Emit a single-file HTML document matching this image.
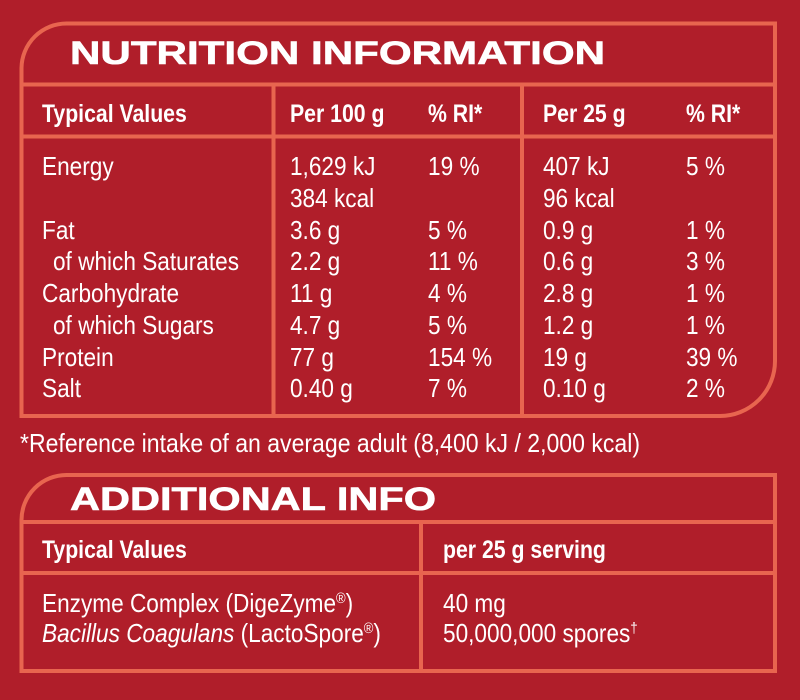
<!DOCTYPE html>
<html><head><meta charset="utf-8"><style>
html,body{margin:0;padding:0;background:#b01e2a}
svg{display:block}
text{font-family:"Liberation Sans",sans-serif;fill:#fff}
.t{font-weight:bold;font-size:32px;stroke:#fff;stroke-width:0.6}
.h{font-weight:bold;font-size:25px}
.b{font-size:26px}
</style></head><body>
<svg width="800" height="700" viewBox="0 0 800 700" xmlns="http://www.w3.org/2000/svg">
<rect width="800" height="700" fill="#b01e2a"/>
<g fill="none" stroke="#e8654f" stroke-width="4">
<path d="M21.5 416 V68 A45 45 0 0 1 66.5 23.5 H775 V361 A55 55 0 0 1 720 416 Z"/>
<line x1="21.5" y1="84.5" x2="775" y2="84.5"/>
<line x1="21.5" y1="136.5" x2="775" y2="136.5"/>
<line x1="273.5" y1="84.5" x2="273.5" y2="416"/>
<line x1="522" y1="84.5" x2="522" y2="416"/>
<path d="M21.5 671 V520 A45 45 0 0 1 66.5 475 H775 V671 Z"/>
<line x1="21.5" y1="522" x2="775" y2="522"/>
<line x1="21.5" y1="573" x2="775" y2="573"/>
<line x1="421" y1="522" x2="421" y2="671"/>
</g>
<text class="t" x="70" y="64" textLength="535" lengthAdjust="spacingAndGlyphs">NUTRITION INFORMATION</text>
<g transform="scale(0.85 1)">
<text class="h" x="49.4" y="122">Typical Values</text>
<text class="h" x="341.2" y="122">Per 100 g</text>
<text class="h" x="503.5" y="122">% RI*</text>
<text class="h" x="638.8" y="122">Per 25 g</text>
<text class="h" x="807" y="122">% RI*</text>
<text class="h" x="49.4" y="558">Typical Values</text>
<text class="h" x="521.2" y="558">per 25 g serving</text>
</g>
<g transform="scale(0.87 1)">
<text class="b" x="48.3" y="175">Energy</text>
<text class="b" x="333.3" y="175">1,629 kJ</text>
<text class="b" x="492" y="175">19 %</text>
<text class="b" x="624.1" y="175">407 kJ</text>
<text class="b" x="788.5" y="175">5 %</text>
<text class="b" x="333.3" y="207">384 kcal</text>
<text class="b" x="624.1" y="207">96 kcal</text>

<text class="b" x="48.3" y="239">Fat</text>
<text class="b" x="333.3" y="239">3.6 g</text>
<text class="b" x="492" y="239">5 %</text>
<text class="b" x="624.1" y="239">0.9 g</text>
<text class="b" x="788.5" y="239">1 %</text>

<text class="b" x="60.9" y="270">of which Saturates</text>
<text class="b" x="333.3" y="270">2.2 g</text>
<text class="b" x="492" y="270">11 %</text>
<text class="b" x="624.1" y="270">0.6 g</text>
<text class="b" x="788.5" y="270">3 %</text>

<text class="b" x="48.3" y="302">Carbohydrate</text>
<text class="b" x="333.3" y="302">11 g</text>
<text class="b" x="492" y="302">4 %</text>
<text class="b" x="624.1" y="302">2.8 g</text>
<text class="b" x="788.5" y="302">1 %</text>

<text class="b" x="60.9" y="334">of which Sugars</text>
<text class="b" x="333.3" y="334">4.7 g</text>
<text class="b" x="492" y="334">5 %</text>
<text class="b" x="624.1" y="334">1.2 g</text>
<text class="b" x="788.5" y="334">1 %</text>

<text class="b" x="48.3" y="366">Protein</text>
<text class="b" x="333.3" y="366">77 g</text>
<text class="b" x="492" y="366">154 %</text>
<text class="b" x="624.1" y="366">19 g</text>
<text class="b" x="788.5" y="366">39 %</text>

<text class="b" x="48.3" y="397">Salt</text>
<text class="b" x="333.3" y="397">0.40 g</text>
<text class="b" x="492" y="397">7 %</text>
<text class="b" x="624.1" y="397">0.10 g</text>
<text class="b" x="788.5" y="397">2 %</text>

<text class="b" x="48.3" y="612">Enzyme Complex (DigeZyme<tspan font-size="15" dy="-9">®</tspan><tspan dy="9">)</tspan></text>
<text class="b" x="48.3" y="642"><tspan font-style="italic">Bacillus Coagulans</tspan> (LactoSpore<tspan font-size="15" dy="-9">®</tspan><tspan dy="9">)</tspan></text>
<text class="b" x="509.2" y="612">40 mg</text>
<text class="b" x="509.2" y="642">50,000,000 spores<tspan font-size="15" dy="-9">†</tspan></text>
</g>
<text class="b" x="20" y="452" textLength="620" lengthAdjust="spacingAndGlyphs">*Reference intake of an average adult (8,400 kJ / 2,000 kcal)</text>
<text class="t" x="70" y="510" textLength="366" lengthAdjust="spacingAndGlyphs">ADDITIONAL INFO</text>
</svg>
</body></html>
